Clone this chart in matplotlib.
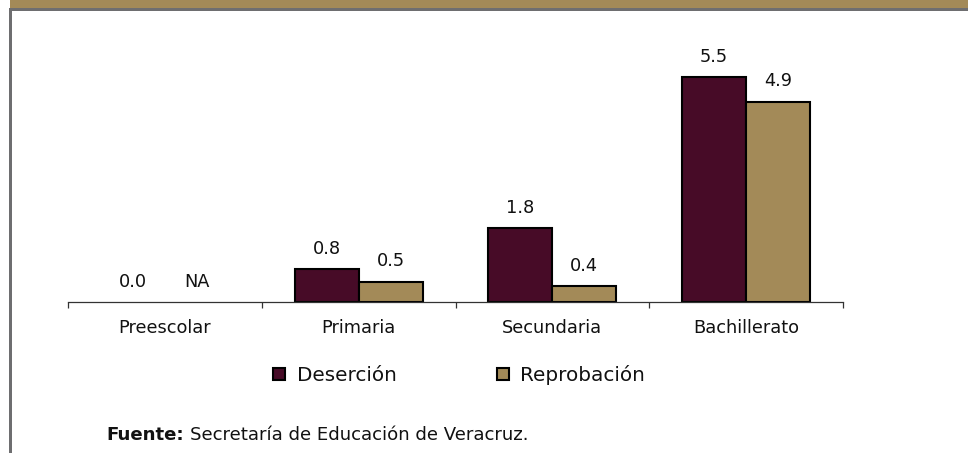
import numpy as np
import matplotlib
matplotlib.use("Agg")
import matplotlib.pyplot as plt
from matplotlib.patches import Rectangle, Patch

categories = ["Preescolar", "Primaria", "Secundaria", "Bachillerato"]
desercion = [0.0, 0.8, 1.8, 5.5]
reprobacion = [np.nan, 0.5, 0.4, 4.9]
series_names = ["Deserción", "Reprobación"]
source_bold = "Fuente:"
source_text = "Secretaría de Educación de Veracruz."

C_DES = "#470B27"
C_REP = "#A38A58"
C_BAND = "#A38A58"
C_GRAY = "#6E6E70"

W, H = 968, 453
fig = plt.figure(figsize=(W / 100, H / 100), dpi=100)
fig.patch.set_facecolor("white")

def fx(px):
    return px / W

def fy(py):
    return 1 - py / H

# frame decorations
fig.patches.append(Rectangle((fx(10), fy(8.3)), fx(W - 10), 8.3 / H,
                             transform=fig.transFigure, color=C_BAND, lw=0))
fig.patches.append(Rectangle((fx(8.7), fy(11)), fx(W - 8.7), 2.7 / H,
                             transform=fig.transFigure, color=C_GRAY, lw=0))
fig.patches.append(Rectangle((fx(8.7), 0), 3.3 / W, fy(8.3),
                             transform=fig.transFigure, color=C_GRAY, lw=0))

ax_l, ax_r, ax_b, ax_t = 68, 843, 302, 40
ax = fig.add_axes([fx(ax_l), fy(ax_b), fx(ax_r - ax_l), (ax_b - ax_t) / H])
ax.set_facecolor("none")

x = np.arange(len(categories))
bw = 0.33
b1 = ax.bar(x - bw / 2, desercion, bw, color=C_DES, edgecolor="black", linewidth=1.5)
b2 = ax.bar(x + bw / 2, np.nan_to_num(reprobacion), bw, color=C_REP, edgecolor="black", linewidth=1.5)
for i, r in enumerate(reprobacion):
    if np.isnan(r) or r == 0:
        b2[i].set_visible(False)
for i, d in enumerate(desercion):
    if d == 0:
        b1[i].set_visible(False)

fs = 12.8
for xi, v in zip(x - bw / 2, desercion):
    ax.annotate(f"{v:.1f}", (xi, v), xytext=(0, 14.5), textcoords="offset points",
                ha="center", va="center", fontsize=fs, color="#111111")
for xi, v in zip(x + bw / 2, reprobacion):
    lab = "NA" if np.isnan(v) else f"{v:.1f}"
    vv = 0 if np.isnan(v) else v
    ax.annotate(lab, (xi, vv), xytext=(0, 14.5), textcoords="offset points",
                ha="center", va="center", fontsize=fs, color="#111111")

ax.set_xlim(-0.5, len(categories) - 0.5)
ax.set_ylim(0, (ax_b - ax_t) / 40.9)
for s in ["top", "right", "left"]:
    ax.spines[s].set_visible(False)
ax.spines["bottom"].set_color("#333333")
ax.spines["bottom"].set_linewidth(0.9)
ax.set_yticks([])
ax.set_xticks(np.arange(len(categories) + 1) - 0.5)
ax.set_xticklabels([])
ax.tick_params(axis="x", which="major", direction="out", length=4.3, width=0.9, color="#333333")
ax.set_xticks(x, minor=True)
ax.set_xticklabels(categories, minor=True, fontsize=fs, color="#111111")
ax.tick_params(axis="x", which="minor", length=0, pad=12)

handles = [Patch(facecolor=C_DES, edgecolor="black", linewidth=1.5),
           Patch(facecolor=C_REP, edgecolor="black", linewidth=1.5)]
fig.legend(handles, series_names, loc="center", bbox_to_anchor=(fx(459), fy(375)),
           ncol=2, frameon=False, fontsize=14.4, handlelength=0.6, handleheight=0.6,
           handletextpad=0.6, columnspacing=5.0, borderpad=0, labelcolor="#111111")

fs_src = 13.1
t1 = fig.text(fx(106), fy(435), source_bold, fontsize=fs_src, fontweight="bold",
              va="center", ha="left", color="#111111")
fig.canvas.draw()
bb = t1.get_window_extent()
fig.text(fx(bb.x1 + 6), fy(435), source_text, fontsize=fs_src, va="center", ha="left",
         color="#111111")

fig.savefig("out.png", dpi=100)
